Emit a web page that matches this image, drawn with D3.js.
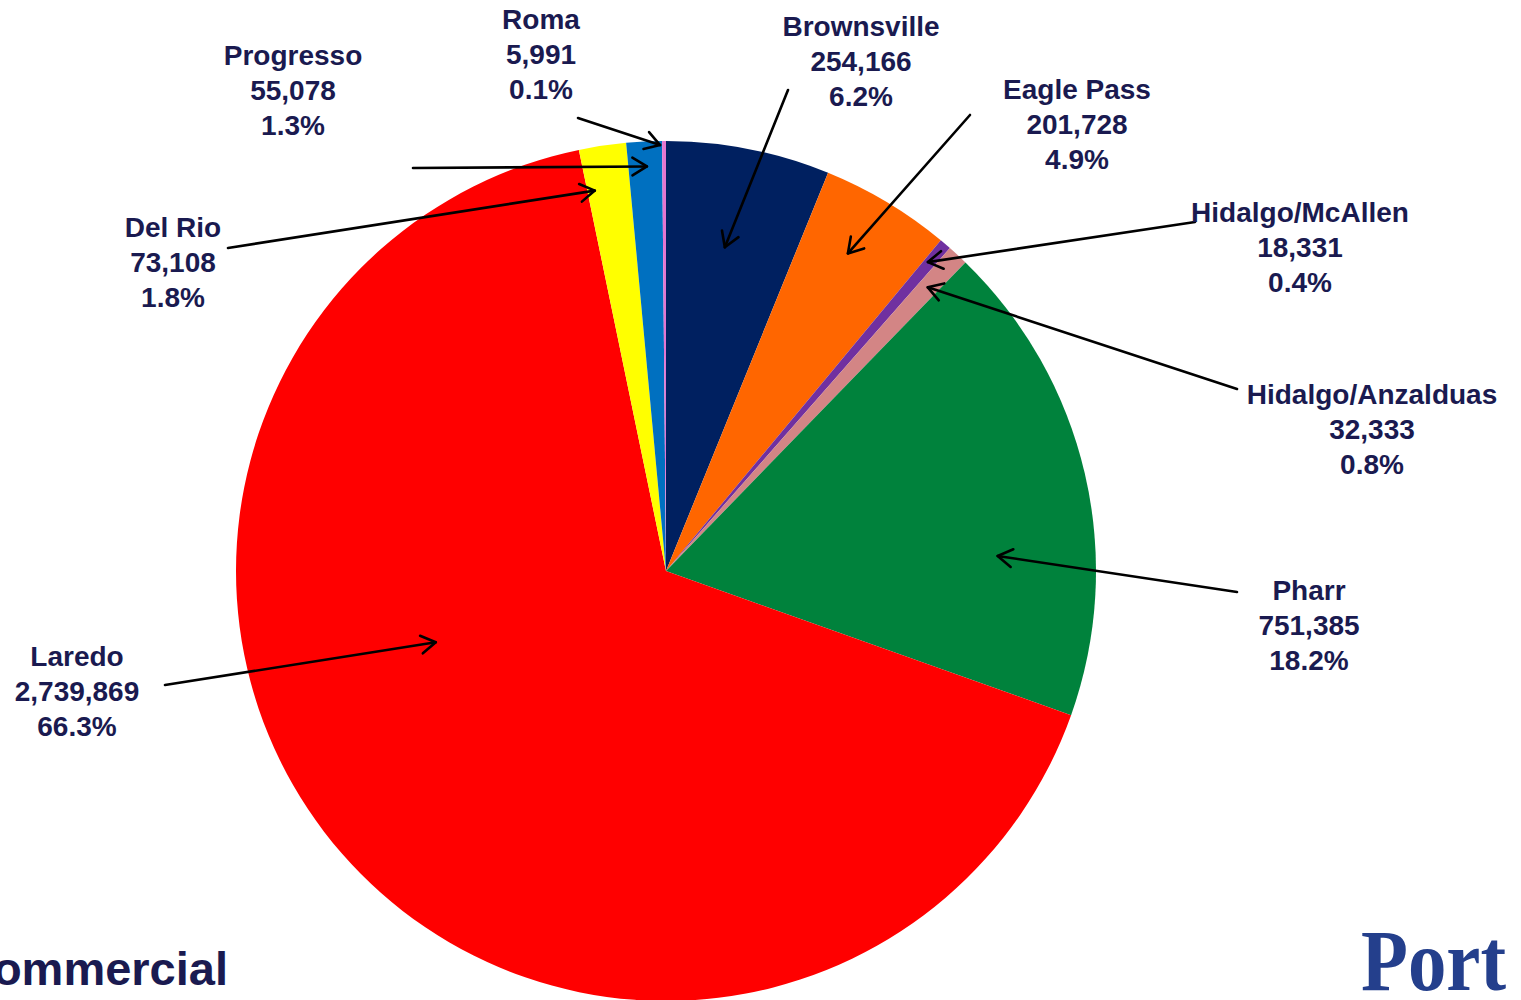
<!DOCTYPE html>
<html><head><meta charset="utf-8">
<script src="https://cdn.jsdelivr.net/npm/d3@7"></script>
<style>html,body{margin:0;padding:0;background:#fff;overflow:hidden}svg{display:block}</style>
</head><body>
<script>
// ---- data ----
const categories = ["Brownsville","Eagle Pass","Hidalgo/McAllen","Hidalgo/Anzalduas","Pharr","Laredo","Del Rio","Progresso","Roma"];
const values = [254166, 201728, 18331, 32333, 751385, 2739869, 73108, 55078, 5991];
const colors = ["#002060","#FF6600","#7030A0","#D38585","#00823C","#FF0000","#FFFF00","#0070C0","#E377D0"];

// ---- layout (annotation placement) ----
const W = 1521, H = 1000;
const cx = 666, cy = 571, R = 430;
const labelPos = { // label center x, first baseline y
  "Brownsville": [861, 36], "Eagle Pass": [1077, 99], "Hidalgo/McAllen": [1300, 222],
  "Hidalgo/Anzalduas": [1372, 404], "Pharr": [1309, 600], "Laredo": [77, 666],
  "Del Rio": [173, 237], "Progresso": [293, 65], "Roma": [541, 29]
};
const arrowTail = {
  "Brownsville": [788, 90], "Eagle Pass": [970, 115], "Hidalgo/McAllen": [1195, 222],
  "Hidalgo/Anzalduas": [1237, 389], "Pharr": [1237, 592], "Laredo": [165, 685],
  "Del Rio": [228, 248], "Progresso": [413, 168], "Roma": [578, 118]
};
const arrowTipPolar = { // [degrees clockwise from top, radius]
  "Brownsville": [10.3, 329], "Eagle Pass": [29.8, 366], "Hidalgo/McAllen": [40.3, 405],
  "Hidalgo/Anzalduas": [42.7, 386], "Pharr": [87.4, 332], "Laredo": [252.8, 241],
  "Del Rio": [349.4, 387], "Progresso": [357.3, 405], "Roma": [359.2, 426]
};

const svg = d3.select("body").append("svg").attr("width", W).attr("height", H);
const total = d3.sum(values);
const fmtN = d3.format(","), fmtP = d3.format(".1%");
const color = d3.scaleOrdinal().domain(categories).range(colors);

const data = categories.map((c, i) => ({name: c, value: values[i]}));
const pie = d3.pie().value(d => d.value).sort(null);
const arc = d3.arc().innerRadius(0).outerRadius(R);

const g = svg.append("g").attr("transform", `translate(${cx},${cy})`);
g.selectAll("path.slice").data(pie(data)).join("path")
  .attr("class", "slice")
  .attr("d", arc)
  .attr("fill", d => color(d.data.name));

// arrows
const ah = svg.append("g").attr("stroke", "#000").attr("stroke-width", 2.6).attr("fill", "none")
  .attr("stroke-linecap", "round").attr("stroke-linejoin", "round");
data.forEach(d => {
  const [t0, t1] = arrowTail[d.name];
  const [deg, r] = arrowTipPolar[d.name];
  const p = d3.pointRadial(deg * Math.PI / 180, r);
  const x2 = cx + p[0], y2 = cy + p[1];
  ah.append("line").attr("x1", t0).attr("y1", t1).attr("x2", x2).attr("y2", y2);
  const a = Math.atan2(y2 - t1, x2 - t0);
  const L = 17, spread = 0.55;
  const pts = [
    [x2 - L * Math.cos(a - spread), y2 - L * Math.sin(a - spread)],
    [x2, y2],
    [x2 - L * Math.cos(a + spread), y2 - L * Math.sin(a + spread)]
  ];
  ah.append("path").attr("d", d3.line()(pts));
});

// labels
const lab = svg.append("g").attr("font-family", "'Liberation Sans', Arial, sans-serif")
  .attr("font-weight", "bold").attr("font-size", 28).attr("fill", "#1a1a50").attr("text-anchor", "middle");
data.forEach(d => {
  const [x, y] = labelPos[d.name];
  const t = lab.append("text").attr("x", x).attr("y", y);
  [d.name, fmtN(d.value), fmtP(d.value / total)].forEach((s, i) => {
    t.append("tspan").attr("x", x).attr("y", y + i * 35).text(s);
  });
});

// footer text
svg.append("text").attr("x", 228).attr("y", 985).attr("text-anchor", "end")
  .attr("font-family", "'Liberation Sans', Arial, sans-serif").attr("font-weight", "bold")
  .attr("font-size", 47).attr("fill", "#1a1a50").text("Commercial");
svg.append("text").attr("x", 1361).attr("y", 990)
  .attr("font-family", "'Liberation Serif', 'Times New Roman', serif").attr("font-weight", "bold")
  .attr("font-size", 86).attr("fill", "#243f8c")
  .attr("textLength", 145).attr("lengthAdjust", "spacingAndGlyphs").text("Port");
</script>
</body></html>
